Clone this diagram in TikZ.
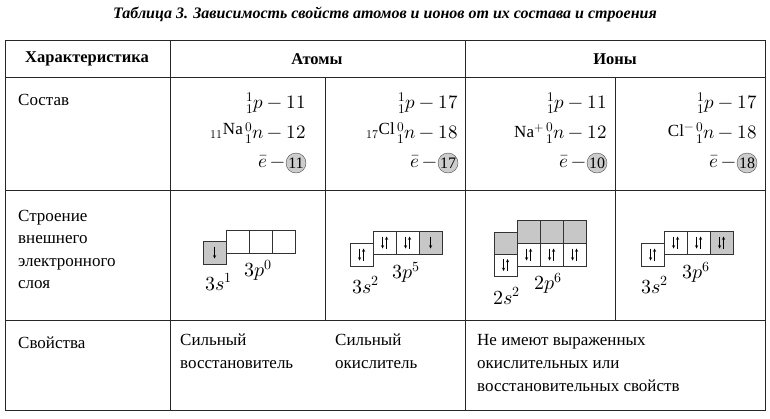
\documentclass[tikz,border=0pt]{standalone}
\usepackage{fontspec}
\setmainfont{Liberation Serif}
\usepackage{unicode-math}
\setmathfont{Latin Modern Math}
\begin{document}
\begin{tikzpicture}[x=1pt,y=-1pt,
  grid/.style={line width=0.8pt,draw=black!85},
  txt/.style={font=\fontsize{17}{20}\selectfont,inner sep=0pt,anchor=west},
  mth/.style={font=\fontsize{19}{21}\selectfont,inner sep=0pt,anchor=east},
  hd/.style={font=\bfseries\fontsize{16.5}{19}\selectfont,inner sep=0pt},
  orb/.style={draw=black!80,line width=0.6pt},
  sh/.style={orb,fill=black!22},
  lab/.style={font=\fontsize{20}{22}\selectfont,inner sep=0pt},
  circ/.style={circle,draw=black!70,fill=black!20,inner sep=0pt,minimum size=20pt,font=\fontsize{16}{18}\selectfont}]
\useasboundingbox (0,0) rectangle (770,418);
% title
\node[font=\bfseries\itshape\fontsize{16}{18}\selectfont,inner sep=0pt] (title) at (385,14) {Таблица 3. Зависимость свойств атомов и ионов от их состава и строения};
% grid
\draw[grid] (5,40) rectangle (765,410);
\draw[grid] (5,77) -- (765,77);
\draw[grid] (5,190) -- (765,190);
\draw[grid] (5,320) -- (765,320);
\draw[grid] (170,40) -- (170,410);
\draw[grid] (465,40) -- (465,410);
\draw[grid] (325,77) -- (325,320);
\draw[grid] (615,77) -- (615,320);
% headers
\node[hd] (h1) at (87,59) {Характеристика};
\node[hd] (h2) at (317,59) {Атомы};
\node[hd] (h3) at (615,59) {Ионы};
% row labels
\node[txt] (r1) at (18,100) {Состав};
\node[txt,align=left,anchor=north west,font=\fontsize{17}{22.5}\selectfont] (r2) at (18,210) {Строение\\внешнего\\электронного\\слоя};
\node[txt] (r3) at (18,343) {Свойства};
% composition
\newcommand{\comp}[6]{%
  \node[mth] at (#1,103) {$_{1}^{1}p - #3$};
  \node[mth] at (#1,133) {$_{1}^{0}n - #4$};
  \node[circ] (c#6) at (#1-10,163) {#5};
  \node[mth] at (#1-21,162) {$\bar{e}\,-$};
  \node[txt,anchor=east] at (#1-63,131) {#2};}
\comp{306}{$_{11}$Na}{11}{12}{11}{a}
\comp{458}{$_{17}$Cl}{17}{18}{17}{b}
\comp{607}{Na$^{+}$}{11}{12}{10}{c}
\comp{757}{Cl$^{-}$}{17}{18}{18}{d}
% arrows
\newcommand{\dn}[2]{\draw[->,>=stealth,line width=0.5pt] (#1,#2-6) -- (#1,#2+6);}
\newcommand{\pr}[2]{\draw[->,>=stealth,line width=0.5pt] (#1-2,#2-6) -- (#1-2,#2+6);
  \draw[->,>=stealth,line width=0.5pt] (#1+2,#2+6) -- (#1+2,#2-6);}
% Na
\draw[sh] (203,241) rectangle (226,264); \dn{214.5}{252.5}
\draw[orb] (226,230) rectangle (249,253) (249,230) rectangle (272,253) (272,230) rectangle (295,253);
\node[lab] at (219,282) {$3s^{1}$};
\node[lab] at (258,270) {$3p^{0}$};
% Cl
\draw[orb] (350,243) rectangle (373,266); \pr{361.5}{254.5}
\draw[orb] (373,231) rectangle (396,254) (396,231) rectangle (419,254);
\draw[sh] (419,231) rectangle (442,254);
\pr{384.5}{242.5} \pr{407.5}{242.5} \dn{430.5}{242.5}
\node[lab] at (366,285) {$3s^{2}$};
\node[lab] at (406,272) {$3p^{5}$};
% Na+
\draw[sh] (494,232) rectangle (517,254);
\draw[orb] (494,254) rectangle (517,276); \pr{505.5}{265}
\draw[sh] (517,220) rectangle (540,243) (540,220) rectangle (563,243) (563,220) rectangle (586,243);
\draw[orb] (517,243) rectangle (540,266) (540,243) rectangle (563,266) (563,243) rectangle (586,266);
\pr{528.5}{254.5} \pr{551.5}{254.5} \pr{574.5}{254.5}
\node[lab] at (507,296) {$2s^{2}$};
\node[lab] at (548,283) {$2p^{6}$};
% Cl-
\draw[orb] (641,243) rectangle (664,266); \pr{652.5}{254.5}
\draw[orb] (664,231) rectangle (687,254) (687,231) rectangle (710,254);
\draw[sh] (710,231) rectangle (733,254);
\pr{675.5}{242.5} \pr{698.5}{242.5} \pr{721.5}{242.5}
\node[lab] at (655,285) {$3s^{2}$};
\node[lab] at (696,272) {$3p^{6}$};
% properties
\node[txt,align=left,anchor=north west,font=\fontsize{17}{23}\selectfont] (p1) at (180,334) {Сильный\\восстановитель};
\node[txt,align=left,anchor=north west,font=\fontsize{17}{23}\selectfont] (p2) at (335,334) {Сильный\\окислитель};
\node[txt,align=left,anchor=north west,font=\fontsize{17}{23}\selectfont] (p3) at (477,334) {Не имеют выраженных\\окислительных или\\восстановительных свойств};
\end{tikzpicture}
\end{document}
